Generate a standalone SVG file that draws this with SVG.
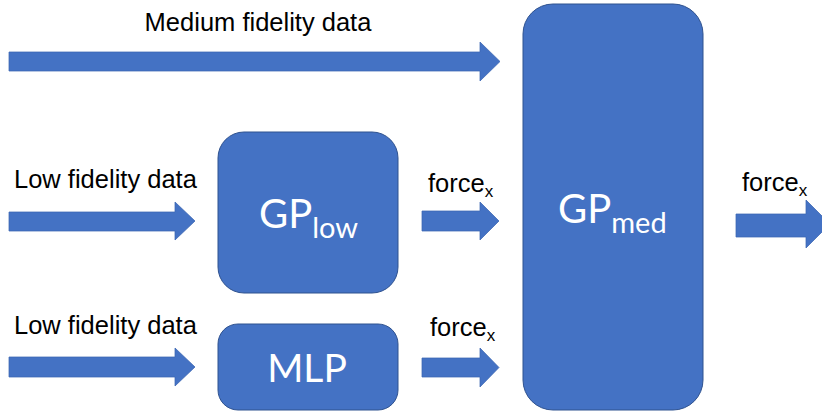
<svg xmlns="http://www.w3.org/2000/svg" width="822" height="413" viewBox="0 0 822 413">
  <style>
    .box { fill: #4472C4; stroke: #2F528F; stroke-width: 1; }
    .arrow { fill: #4472C4; stroke: #3B65B2; stroke-width: 0.75; }
    .lbl { font-family: "Liberation Sans", Arial, sans-serif; font-size: 25.5px; fill: #000; }
    .in { font-family: Lato, "Open Sans", sans-serif; fill: #fff; }
  </style>
  <rect width="822" height="413" fill="#fff"/>

  <g id="connectors">
    <!-- medium fidelity input -->
    <path class="arrow" d="M9,52 H480 V42 L500,61.5 L480,81 V71 H9 Z"/>
    <!-- low fidelity inputs -->
    <path class="arrow" d="M9,212 H175 V202 L195,221 L175,240 V231 H9 Z"/>
    <path class="arrow" d="M9,357 H175 V348 L195,367 L175,386 V377 H9 Z"/>
    <!-- force outputs into GP_med -->
    <path class="arrow" d="M422,211 H480 V202 L499,221 L480,240 V231 H422 Z"/>
    <path class="arrow" d="M422,358 H480 V348 L499,367.5 L480,387 V377 H422 Z"/>
    <!-- final output -->
    <path class="arrow" d="M736,214 H806 V200 L830,224 L806,248 V237 H736 Z"/>
  </g>

  <g id="labels">
    <text class="lbl" x="258" y="31" text-anchor="middle">Medium fidelity data</text>
    <text class="lbl" x="14" y="188" font-size="26">Low fidelity data</text>
    <text class="lbl" x="14" y="334" font-size="26">Low fidelity data</text>
    <text class="lbl" x="428" y="192">force<tspan font-size="17" dy="5">x</tspan></text>
    <text class="lbl" x="430" y="336">force<tspan font-size="17" dy="5">x</tspan></text>
    <text class="lbl" x="742" y="191">force<tspan font-size="17" dy="5">x</tspan></text>
  </g>

  <g id="gp-low">
    <rect class="box" x="218" y="132" width="180" height="161" rx="26"/>
    <text class="in" x="259" y="228" font-size="40">GP<tspan font-size="29" dy="10">low</tspan></text>
  </g>

  <g id="mlp">
    <rect class="box" x="218" y="324" width="180" height="86" rx="20"/>
    <text class="in" x="307" y="382" font-size="39" text-anchor="middle">MLP</text>
  </g>

  <g id="gp-med">
    <rect class="box" x="523" y="4" width="180" height="406" rx="30"/>
    <text class="in" x="558" y="223" font-size="40">GP<tspan font-size="29" dy="10">med</tspan></text>
  </g>
</svg>
